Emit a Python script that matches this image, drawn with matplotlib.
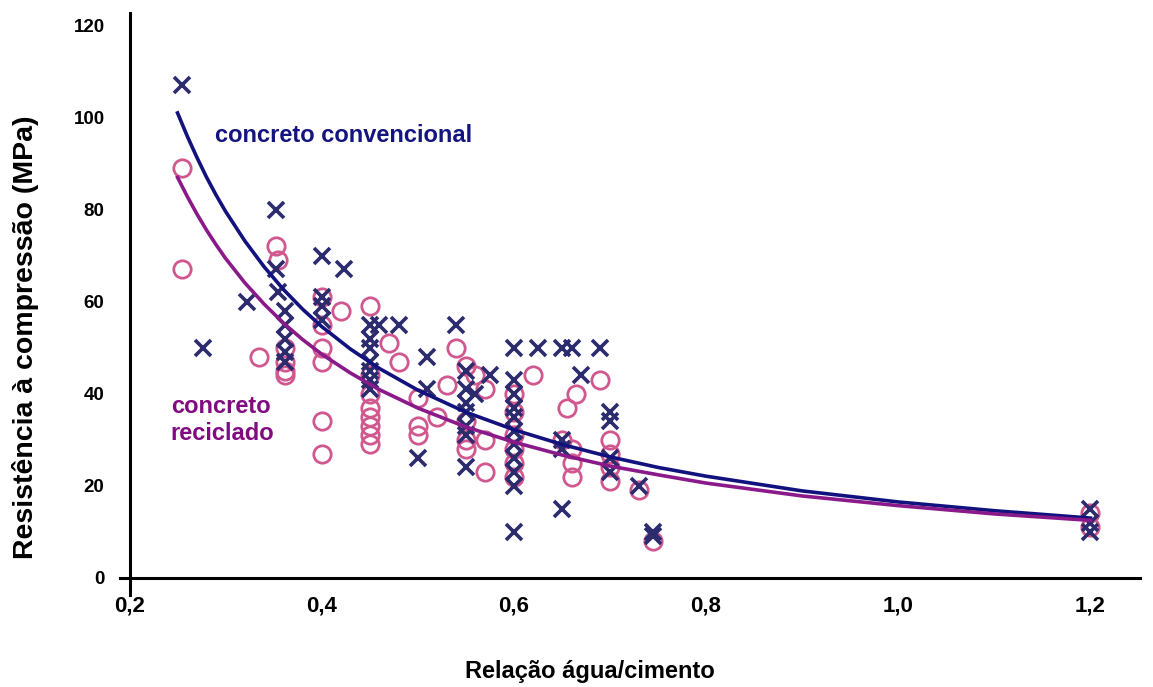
import matplotlib.pyplot as plt

plt.rcParams["font.family"] = ["Liberation Sans", "DejaVu Sans"]

# conventional concrete (x markers)
conv_x = [0.255, 0.276, 0.322, 0.352, 0.352, 0.355, 0.362, 0.362, 0.362, 0.362, 0.362,
          0.40, 0.40, 0.40, 0.40, 0.423, 0.45, 0.45, 0.45, 0.45, 0.45, 0.45, 0.45,
          0.46, 0.48, 0.51, 0.50, 0.51, 0.54, 0.55, 0.55, 0.55, 0.55, 0.55, 0.55, 0.55,
          0.575, 0.56, 0.60, 0.60, 0.60, 0.60, 0.60, 0.60, 0.60, 0.60, 0.60, 0.60, 0.60,
          0.625, 0.65, 0.66, 0.67, 0.69, 0.65, 0.65, 0.65, 0.70, 0.70, 0.70, 0.70,
          0.73, 0.745, 0.745, 1.2, 1.2, 1.2]
conv_y = [107, 50, 60, 80, 67, 62, 58, 55, 52, 49, 47,
          70, 61, 59, 56, 67, 55, 52, 50, 47, 45, 43, 41,
          55, 55, 48, 26, 41, 55, 45, 41, 38, 36, 33, 31, 24,
          44, 40, 50, 43, 40, 37, 35, 32, 29, 26, 23, 20, 10,
          50, 50, 50, 44, 50, 30, 28, 15, 36, 34, 26, 23,
          20, 9, 10, 15, 12, 10]

# recycled concrete (open circles)
rec_x = [0.255, 0.255, 0.335, 0.352, 0.355, 0.362, 0.362, 0.362, 0.362,
         0.40, 0.40, 0.40, 0.40, 0.40, 0.40, 0.42, 0.45, 0.45, 0.45, 0.45, 0.45,
         0.45, 0.45, 0.45, 0.47, 0.48, 0.50, 0.50, 0.50, 0.52, 0.53, 0.54, 0.55,
         0.56, 0.55, 0.55, 0.55, 0.57, 0.57, 0.57, 0.60, 0.60, 0.60, 0.60, 0.60,
         0.60, 0.62, 0.65, 0.655, 0.665, 0.66, 0.66, 0.66, 0.69, 0.70, 0.70, 0.70,
         0.70, 0.73, 0.745, 1.2, 1.2]
rec_y = [89, 67, 48, 72, 69, 50, 47, 45, 44,
         61, 55, 50, 47, 34, 27, 58, 59, 44, 40, 37, 35,
         33, 31, 29, 51, 47, 39, 33, 31, 35, 42, 50, 46,
         44, 34, 30, 28, 41, 30, 23, 40, 36, 31, 28, 25,
         22, 44, 30, 37, 40, 28, 25, 22, 43, 30, 27, 24,
         21, 19, 8, 14, 11]

# trend curves
curve_x = [0.25, 0.26, 0.27, 0.28, 0.29, 0.30, 0.32, 0.34, 0.36, 0.38, 0.40, 0.43,
           0.46, 0.50, 0.55, 0.60, 0.65, 0.70, 0.75, 0.80, 0.90, 1.0, 1.1, 1.2]
conv_curve = [101.0, 96.0, 91.4, 87.1, 83.2, 79.6, 73.2, 67.6, 62.7, 58.4, 54.6, 49.7,
              45.5, 40.8, 36.0, 32.2, 29.0, 26.3, 24.0, 22.1, 18.9, 16.5, 14.6, 13.0]
rec_curve = [87.0, 82.9, 79.1, 75.6, 72.4, 69.4, 64.1, 59.5, 55.4, 51.8, 48.6, 44.5,
             40.9, 36.9, 32.8, 29.5, 26.7, 24.3, 22.4, 20.6, 17.8, 15.7, 13.9, 12.5]

xticks = [0.2, 0.4, 0.6, 0.8, 1.0, 1.2]
yticks = [0, 20, 40, 60, 80, 100, 120]

fig = plt.figure(figsize=(11.53, 6.87), dpi=100)
ax = fig.add_axes([0.104, 0.134, 0.885, 0.847])

ax.plot(rec_x, rec_y, "o", ms=12.5, mfc="none", mec="#d0588f", mew=2.0)
ax.plot(conv_x, conv_y, "x", ms=12, color="#2b2b6e", mew=2.6)
ax.plot(curve_x, conv_curve, color="#12127e", lw=2.6)
ax.plot(curve_x, rec_curve, color="#8a1a8a", lw=2.6)

ax.text(0.289, 96, "concreto convencional", color="#141480", fontsize=17,
        fontweight="bold", va="center")
ax.text(0.243, 34.3, "concreto\nreciclado", color="#800a80", fontsize=17,
        fontweight="bold", va="center", linespacing=1.25)

ax.set_xlim(0.19, 1.252)
ax.set_ylim(-3.7, 122.7)
ax.spines["left"].set_position(("data", 0.2))
ax.spines["bottom"].set_position(("data", 0))
ax.spines["top"].set_visible(False)
ax.spines["right"].set_visible(False)
for s in ["left", "bottom"]:
    ax.spines[s].set_linewidth(2.2)

ax.set_xticks(xticks)
ax.set_xticklabels([f"{t:.1f}".replace(".", ",") for t in xticks])
ax.set_yticks(yticks)
ax.tick_params(length=0)
ax.tick_params(axis="x", pad=13, labelsize=16)
ax.tick_params(axis="y", pad=18, labelsize=13.5)
for lab in ax.get_xticklabels() + ax.get_yticklabels():
    lab.set_fontweight("bold")

ax.set_xlabel("Relação água/cimento", fontsize=17, fontweight="bold")
ax.set_ylabel("Resistência à compressão (MPa)", fontsize=20.5, fontweight="bold")
ax.xaxis.set_label_coords(0.461, -0.112)
ax.yaxis.set_label_coords(-0.079, 0.443)

plt.savefig("out.png", dpi=100)
